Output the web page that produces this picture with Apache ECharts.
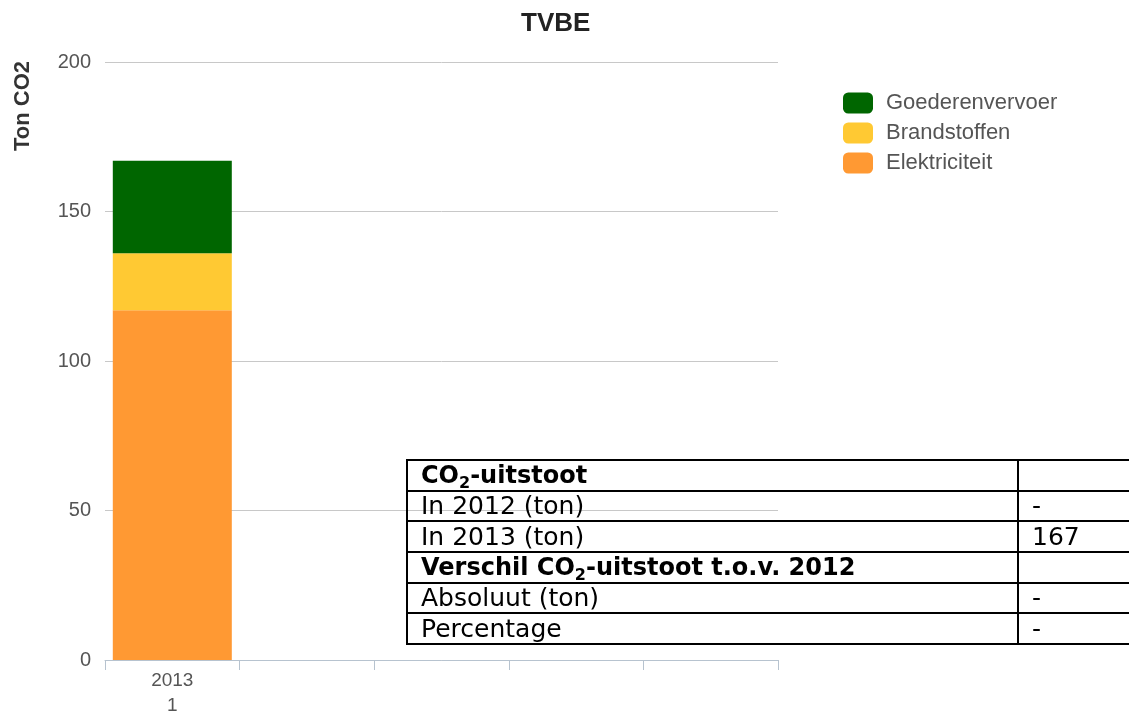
<!DOCTYPE html>
<html>
<head>
<meta charset="utf-8">
<script src="https://cdn.jsdelivr.net/npm/echarts@6/dist/echarts.min.js"></script>
<style>
html,body{margin:0;padding:0;background:#fff;overflow:hidden;}
#chart{position:absolute;left:0;top:0;width:1129px;height:713px;}
#tbl{position:absolute;left:406px;top:459px;border-collapse:collapse;table-layout:fixed;width:760px;font-family:"DejaVu Sans",Verdana,sans-serif;font-size:25px;color:#000;}
#tbl td{border:2px solid #000;height:28.7px;padding:0 0 0 13px;line-height:28px;white-space:nowrap;vertical-align:middle;overflow:hidden;}
#tbl b{font-size:24px;}
#tbl sub{font-size:16px;vertical-align:-5px;line-height:0;}
</style>
</head>
<body>
<div id="chart"></div>
<table id="tbl"><colgroup><col style="width:611px"><col></colgroup><tbody id="tb"></tbody></table>
<script>
var categories = ['2013\n1', ' ', '  ', '   ', '    '];
var elektriciteit = [117, null, null, null, null];
var brandstoffen = [19, null, null, null, null];
var goederenvervoer = [31, null, null, null, null];
var yTicks = [0, 50, 100, 150, 200];
var tableRows = [
  ['CO<sub>2</sub>-uitstoot', '', true],
  ['In 2012 (ton)', '-', false],
  ['In 2013 (ton)', '167', false],
  ['Verschil CO<sub>2</sub>-uitstoot t.o.v. 2012', '', true],
  ['Absoluut (ton)', '-', false],
  ['Percentage', '-', false]
];

var tb = document.getElementById('tb');
tableRows.forEach(function(r){
  var tr = document.createElement('tr');
  var td1 = document.createElement('td'); td1.innerHTML = r[2] ? '<b>'+r[0]+'</b>' : r[0];
  var td2 = document.createElement('td'); td2.innerHTML = r[1];
  tr.appendChild(td1); tr.appendChild(td2); tb.appendChild(tr);
});

var chart = echarts.init(document.getElementById('chart'));
var font = 'Liberation Sans, Arial, sans-serif';
chart.setOption({
  animation: false,
  title: {text: 'TVBE', left: 516, top: 6,
    textStyle: {fontFamily: font, fontSize: 26, fontWeight: 'bold', color: '#222'}},
  graphic: [{
    type: 'text', x: 23, y: 106, rotation: Math.PI / 2,
    style: {text: 'Ton CO2', fontFamily: font, fontSize: 22, fontWeight: 'bold', fill: '#333',
      align: 'center', verticalAlign: 'middle'}
  }],
  legend: {
    orient: 'vertical', left: 838, top: 87, itemWidth: 30, itemHeight: 21, itemGap: 8,
    icon: 'roundRect',
    data: ['Goederenvervoer', 'Brandstoffen', 'Elektriciteit'],
    textStyle: {fontFamily: font, fontSize: 22, color: '#555', padding: [0,0,0,8]}
  },
  grid: {left: 105, right: 351, top: 62, bottom: 53, containLabel: false, outerBoundsMode: 'none'},
  xAxis: {
    type: 'category', data: categories, boundaryGap: true,
    axisLine: {lineStyle: {color: '#b7c3cf', width: 1}},
    axisTick: {show: true, length: 10, lineStyle: {color: '#b7c3cf'}},
    axisLabel: {fontFamily: font, fontSize: 19, color: '#555', lineHeight: 25, margin: 8}
  },
  yAxis: {
    type: 'value', min: 0, max: 200, interval: 50,
    axisLine: {show: false}, axisTick: {show: false},
    splitLine: {lineStyle: {color: '#c8c8c8', width: 1}},
    axisLabel: {fontFamily: font, fontSize: 20, color: '#555', margin: 14,
      formatter: function(v){ return yTicks.indexOf(v) >= 0 ? String(v) : ''; }}
  },
  series: [
    {name: 'Elektriciteit', type: 'bar', stack: 'a', data: elektriciteit, barWidth: 119, itemStyle: {color: '#ff9933'}},
    {name: 'Brandstoffen', type: 'bar', stack: 'a', data: brandstoffen, barWidth: 119, itemStyle: {color: '#ffc933'}},
    {name: 'Goederenvervoer', type: 'bar', stack: 'a', data: goederenvervoer, barWidth: 119, itemStyle: {color: '#006600'}}
  ]
});
</script>
</body>
</html>
